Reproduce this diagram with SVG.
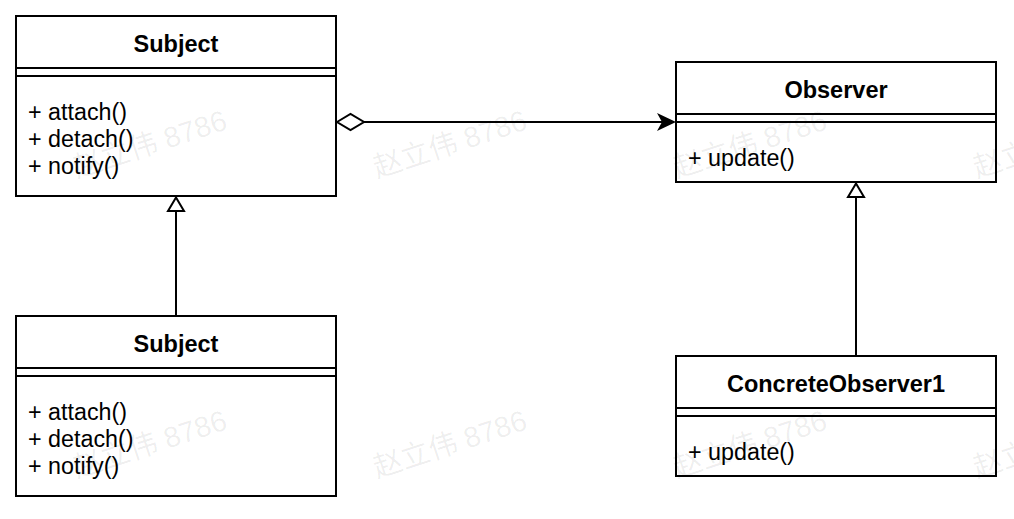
<svg xmlns="http://www.w3.org/2000/svg" width="1014" height="519" viewBox="0 0 1014 519">
<style>
.box{fill:#fff;stroke:#000;stroke-width:2}
.sep{stroke:#000;stroke-width:2;fill:none}
.title{font-family:"Liberation Sans",Arial,sans-serif;font-weight:bold;font-size:23.5px;fill:#000;text-anchor:middle}
.item{font-family:"Liberation Sans",Arial,sans-serif;font-size:23.3px;fill:#000}
.edge{stroke:#000;stroke-width:2;fill:none}
.hollow{fill:#fff;stroke:#000;stroke-width:2}
.wm{font-family:"Liberation Sans","Noto Sans CJK SC",sans-serif;font-size:29px;fill:#000;fill-opacity:0.07}
</style>
<rect width="1014" height="519" fill="#fff"/>
<g id="connectors">
  <line class="edge" x1="364" y1="122" x2="662" y2="122"/>
  <polygon class="hollow" points="337,122 350.5,114 364,122 350.5,130"/>
  <polygon points="676,122 657,113 662,122 657,131" fill="#000"/>
  <line class="edge" x1="176" y1="316" x2="176" y2="211"/>
  <polygon class="hollow" points="176,197.5 168,211 184,211"/>
  <line class="edge" x1="856" y1="356" x2="856" y2="197"/>
  <polygon class="hollow" points="856,183.5 848,197 864,197"/>
</g>
<g id="subject-top">
  <rect class="box" x="16" y="16" width="320" height="180"/>
  <line class="sep" x1="16" y1="68" x2="336" y2="68"/>
  <line class="sep" x1="16" y1="76" x2="336" y2="76"/>
  <text class="title" x="176" y="52">Subject</text>
  <text class="item" x="28" y="120">+ attach()</text>
  <text class="item" x="28" y="147">+ detach()</text>
  <text class="item" x="28" y="174">+ notify()</text>
</g>
<g id="subject-bottom">
  <rect class="box" x="16" y="316" width="320" height="180"/>
  <line class="sep" x1="16" y1="368" x2="336" y2="368"/>
  <line class="sep" x1="16" y1="376" x2="336" y2="376"/>
  <text class="title" x="176" y="352">Subject</text>
  <text class="item" x="28" y="420">+ attach()</text>
  <text class="item" x="28" y="447">+ detach()</text>
  <text class="item" x="28" y="474">+ notify()</text>
</g>
<g id="observer">
  <rect class="box" x="676" y="62" width="320" height="120"/>
  <line class="sep" x1="676" y1="114" x2="996" y2="114"/>
  <line class="sep" x1="676" y1="122" x2="996" y2="122"/>
  <text class="title" x="836" y="98">Observer</text>
  <text class="item" x="688" y="166">+ update()</text>
</g>
<g id="concrete-observer1">
  <rect class="box" x="676" y="356" width="320" height="120"/>
  <line class="sep" x1="676" y1="408" x2="996" y2="408"/>
  <line class="sep" x1="676" y1="416" x2="996" y2="416"/>
  <text class="title" x="836" y="392">ConcreteObserver1</text>
  <text class="item" x="688" y="460">+ update()</text>
</g>
<g id="watermark">
  <text class="wm" x="77" y="178" transform="rotate(-18 77 178)">赵立伟 8786</text>
  <text class="wm" x="377" y="178" transform="rotate(-18 377 178)">赵立伟 8786</text>
  <text class="wm" x="677" y="178" transform="rotate(-18 677 178)">赵立伟 8786</text>
  <text class="wm" x="977" y="178" transform="rotate(-18 977 178)">赵立伟 8786</text>
  <text class="wm" x="77" y="478" transform="rotate(-18 77 478)">赵立伟 8786</text>
  <text class="wm" x="377" y="478" transform="rotate(-18 377 478)">赵立伟 8786</text>
  <text class="wm" x="677" y="478" transform="rotate(-18 677 478)">赵立伟 8786</text>
  <text class="wm" x="977" y="478" transform="rotate(-18 977 478)">赵立伟 8786</text>
</g>
</svg>
